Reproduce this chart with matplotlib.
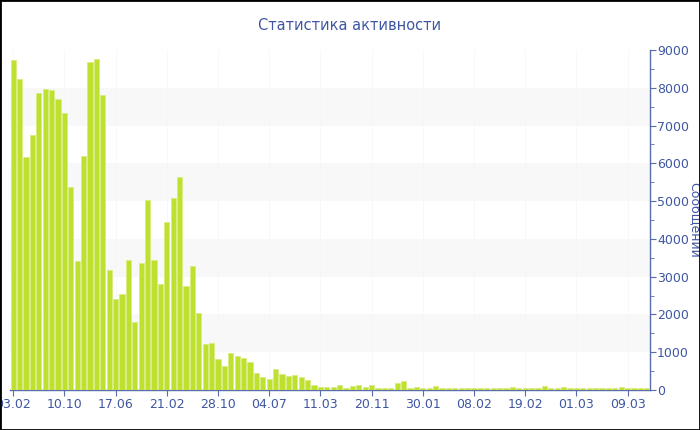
import numpy as np
import matplotlib.pyplot as plt
from matplotlib.patches import Rectangle

# messages per period
messages = [8735, 8232, 6167, 6750, 7870, 7975, 7933, 7702, 7324, 5365,
            3423, 6194, 8682, 8770, 7808, 3176, 2417, 2532, 3432, 1791,
            3353, 5021, 3450, 2797, 4447, 5074, 5638, 2744, 3273, 2030,
            1209, 1235, 820, 635, 980, 892, 856, 733, 450, 344,
            300, 547, 423, 362, 397, 335, 265, 124, 79, 79,
            79, 124, 60, 106, 141, 88, 132, 65, 65, 55,
            194, 238, 55, 85, 50, 60, 95, 50, 45, 45,
            45, 60, 45, 60, 45, 45, 45, 45, 85, 60,
            45, 50, 50, 105, 50, 60, 80, 50, 50, 45,
            45, 45, 45, 45, 45, 70, 65, 45, 45, 40]

tick_labels = ['03.02', '10.10', '17.06', '21.02', '28.10', '04.07', '11.03',
               '20.11', '30.01', '08.02', '19.02', '01.03', '09.03']
tick_step = 8

title = 'Статистика активности'
ylabel = 'Сообщений'

text_col = '#3f56a2'
axis_col = '#5b6cae'
bar_col = '#bde12e'

fig = plt.figure(figsize=(7, 4.3), dpi=100)
ax = fig.add_axes([10 / 700, 40 / 430, 640 / 700, 340 / 430])

x = np.arange(len(messages))
ax.bar(x, messages, width=0.84, color=bar_col, edgecolor='#d6ec7c', linewidth=0.5, zorder=3)

ax.set_xlim(-0.5, len(messages) - 0.5)
ax.set_ylim(0, 9000)

# alternating bands
for lo in range(1000, 9000, 2000):
    ax.axhspan(lo, lo + 1000, color='#f8f8f8', zorder=0, lw=0)

ticks = np.arange(0, len(messages), tick_step)
ax.set_xticks(ticks)
ax.set_xticklabels(tick_labels)
for t in ticks:
    ax.axvline(t, color='#f6f6f6', lw=0.5, zorder=1)

ax.yaxis.tick_right()
ax.set_yticks(np.arange(0, 9001, 1000))
ax.set_yticks(np.arange(500, 9000, 1000), minor=True)
ax.yaxis.set_label_position('right')
ax.set_ylabel(ylabel, rotation=270, color=text_col, fontsize=9, va='center')
ax.yaxis.set_label_coords(1.07, 0.5)

for s in ['top', 'left']:
    ax.spines[s].set_visible(False)
for s in ['bottom', 'right']:
    ax.spines[s].set_color(axis_col)
    ax.spines[s].set_linewidth(1)

ax.tick_params(axis='both', colors=axis_col, labelcolor=text_col, labelsize=9, length=4, pad=1)
ax.tick_params(axis='y', which='minor', colors=axis_col, length=3)
ax.tick_params(axis='x', pad=2)

fig.text(0.5, 1 - 25 / 430, title, ha='center', va='center', fontsize=10.5, color=text_col)

fig.patches.append(Rectangle((0, 0), 1, 1, transform=fig.transFigure, fill=False,
                             edgecolor='black', linewidth=2, zorder=10))

fig.savefig('out.png', dpi=100)
